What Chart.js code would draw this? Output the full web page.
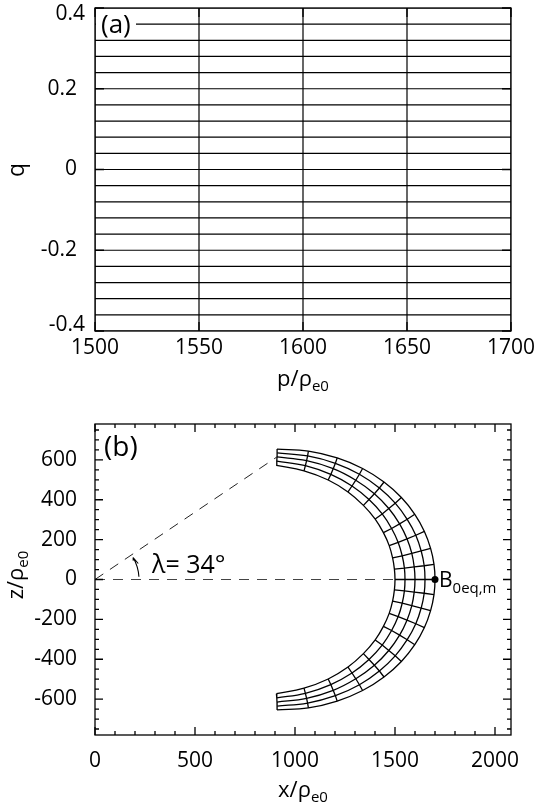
<!DOCTYPE html>
<html>
<head>
<meta charset="utf-8">
<script src="https://cdn.jsdelivr.net/npm/chart.js@4.4.0/dist/chart.umd.min.js"></script>
<style>
  html, body { margin: 0; padding: 0; background: #fff; }
  #wrap { position: relative; width: 534px; height: 803px; }
  canvas { position: absolute; left: 0; }
  #chartA { top: 0; }
  #chartB { top: 400px; }
</style>
</head>
<body>
<div id="wrap">
  <canvas id="chartA" width="534" height="400"></canvas>
  <canvas id="chartB" width="534" height="403"></canvas>
</div>
<script>
const FONT = 'Open Sans';

// ---- panel (a): the mesh in (p, q) ----
const pLevels = [1500, 1550, 1600, 1650, 1700];
const qLevels = [-0.4, -0.36, -0.32, -0.28, -0.24, -0.2, -0.16, -0.12, -0.08, -0.04, 0,
                 0.04, 0.08, 0.12, 0.16, 0.2, 0.24, 0.28, 0.32, 0.36, 0.4];
const aTicksX = [1500, 1550, 1600, 1650, 1700];
const aTicksY = [-0.4, -0.2, 0, 0.2, 0.4];
const aLabelsY = ['-0.4', '-0.2', '0', '0.2', '0.4'];

// ---- panel (b): field lines p = const, mesh nodes from lower end to upper end ----
const fieldX1500 = [907, 1045, 1166, 1265, 1342, 1401, 1442, 1471, 1488, 1497, 1500, 1497, 1488, 1471, 1442, 1401, 1342, 1265, 1166, 1045, 907];
const fieldZ1500 = [-573, -545, -499, -439, -372, -303, -235, -170, -108, -52, 0, 52, 108, 170, 235, 303, 372, 439, 499, 545, 573];
const fieldX1550 = [909, 1052, 1179, 1285, 1370, 1436, 1483, 1516, 1536, 1547, 1550, 1547, 1536, 1516, 1483, 1436, 1370, 1285, 1179, 1052, 909];
const fieldZ1550 = [-594, -571, -527, -469, -401, -329, -256, -186, -119, -57, 0, 57, 119, 186, 256, 329, 401, 469, 527, 571, 594];
const fieldX1600 = [910, 1058, 1191, 1304, 1397, 1469, 1523, 1560, 1584, 1596, 1600, 1596, 1584, 1560, 1523, 1469, 1397, 1304, 1191, 1058, 910];
const fieldZ1600 = [-615, -596, -556, -498, -430, -356, -279, -204, -131, -63, 0, 63, 131, 204, 279, 356, 430, 498, 556, 596, 615];
const fieldX1650 = [911, 1063, 1202, 1322, 1422, 1501, 1561, 1604, 1631, 1646, 1650, 1646, 1631, 1604, 1561, 1501, 1422, 1322, 1202, 1063, 911];
const fieldZ1650 = [-635, -620, -583, -528, -459, -383, -302, -222, -143, -69, 0, 69, 143, 222, 302, 383, 459, 528, 583, 620, 635];
const fieldX1700 = [910, 1067, 1211, 1338, 1445, 1532, 1599, 1647, 1678, 1695, 1700, 1695, 1678, 1647, 1599, 1532, 1445, 1338, 1211, 1067, 910];
const fieldZ1700 = [-654, -644, -610, -557, -489, -411, -327, -241, -156, -76, 0, 76, 156, 241, 327, 411, 489, 557, 610, 644, 654];

const bPointB = { x: 1700, z: 0 };   // B0eq,m
const bTicksX = [0, 500, 1000, 1500, 2000];
const bMinorX = [100, 200, 300, 400, 600, 700, 800, 900, 1100, 1200, 1300, 1400, 1600, 1700, 1800, 1900];
const bTicksY = [-600, -400, -200, 0, 200, 400, 600];
const bMinorY = [-750, -700, -650, -550, -500, -450, -350, -300, -250, -150, -100, -50,
                 50, 100, 150, 250, 300, 350, 450, 500, 550, 650, 700, 750];

// ---------- helpers ----------
function drawText(ctx, item) {
  let w = 0;
  item.parts.forEach(p => { ctx.font = `${p.size}px "${FONT}"`; w += ctx.measureText(p.t).width; });
  let x0 = item.align === 'center' ? -w / 2 : (item.align === 'right' ? -w : 0);
  ctx.save();
  ctx.translate(item.x, item.y);
  if (item.rotate) ctx.rotate(-Math.PI / 2);
  ctx.fillStyle = '#000';
  ctx.textAlign = 'left';
  ctx.textBaseline = item.baseline || 'alphabetic';
  item.parts.forEach(p => {
    ctx.font = `${p.size}px "${FONT}"`;
    ctx.fillText(p.t, x0, p.dy || 0);
    x0 += ctx.measureText(p.t).width;
  });
  ctx.restore();
}

// box + inward ticks on all four sides
const framePlugin = {
  id: 'frame',
  afterDraw(chart, args, opts) {
    const { ctx, chartArea: a, scales: { x, y } } = chart;
    ctx.save();
    ctx.strokeStyle = '#000';
    ctx.lineWidth = 1.3;
    ctx.beginPath();
    const tx = (v, len) => {
      const px = x.getPixelForValue(v);
      ctx.moveTo(px, a.bottom); ctx.lineTo(px, a.bottom - len);
      ctx.moveTo(px, a.top); ctx.lineTo(px, a.top + len);
    };
    const ty = (v, len) => {
      const py = y.getPixelForValue(v);
      ctx.moveTo(a.left, py); ctx.lineTo(a.left + len, py);
      ctx.moveTo(a.right, py); ctx.lineTo(a.right - len, py);
    };
    x.ticks.forEach(t => tx(t.value, opts.major));
    y.ticks.forEach(t => ty(t.value, opts.major));
    (opts.minorX || []).forEach(v => tx(v, opts.minor));
    (opts.minorY || []).forEach(v => ty(v, opts.minor));
    ctx.stroke();
    ctx.strokeRect(a.left, a.top, a.right - a.left, a.bottom - a.top);
    ctx.restore();
  }
};

// panel letters, titles, annotations
const notesPlugin = {
  id: 'notes',
  afterDatasetsDraw(chart, args, opts) {
    const ctx = chart.ctx;
    (opts.boxes || []).forEach(b => { ctx.fillStyle = '#fff'; ctx.fillRect(b[0], b[1], b[2], b[3]); });
    if (opts.arc) {
      const { x, y } = chart.scales;
      const cx = x.getPixelForValue(0), cy = y.getPixelForValue(0);
      const R = x.getPixelForValue(opts.arc.r) - cx;
      const t0 = opts.arc.from * Math.PI / 180, t1 = opts.arc.to * Math.PI / 180;
      ctx.save();
      ctx.strokeStyle = '#000';
      ctx.lineWidth = 1.1;
      ctx.beginPath();
      ctx.arc(cx, cy, R, -t1, -t0);
      const px = cx + R * Math.cos(t1), py = cy - R * Math.sin(t1);
      const dx = -Math.sin(t1), dy = -Math.cos(t1);
      [0.5, -0.5].forEach(s => {
        const bx = -dx * Math.cos(s) + dy * Math.sin(s);
        const by = -dx * -Math.sin(s) + -dy * Math.cos(s);
        ctx.moveTo(px, py); ctx.lineTo(px + 6 * bx, py + 6 * by);
      });
      ctx.stroke();
      ctx.restore();
    }
    (opts.items || []).forEach(it => drawText(ctx, it));
  }
};

const tickFont = { family: FONT, size: 21 };

// ---------- panel (a) ----------
const meshA = [];
qLevels.forEach(q => meshA.push({ data: [{ x: pLevels[0], y: q }, { x: pLevels[pLevels.length - 1], y: q }] }));
pLevels.forEach(p => meshA.push({ data: [{ x: p, y: qLevels[0] }, { x: p, y: qLevels[qLevels.length - 1] }] }));
meshA.forEach(d => Object.assign(d, { showLine: true, borderColor: '#000', borderWidth: 1.2, pointRadius: 0, tension: 0 }));

new Chart(document.getElementById('chartA'), {
  type: 'scatter',
  data: { datasets: meshA },
  options: {
    responsive: false, animation: false, events: [],
    layout: { padding: { left: 0, right: 23, top: 8, bottom: 0 } },
    plugins: {
      legend: { display: false }, tooltip: { enabled: false },
      frame: { major: 9, minor: 4 },
      notes: {
        boxes: [[96, 11, 40, 27]],
        items: [
          { parts: [{ t: '(a)', size: 26 }], x: 101, y: 33 },
          { parts: [{ t: aLabelsY[4], size: 21 }], x: 85, y: 14, align: 'right', baseline: 'middle' },
          { parts: [{ t: aLabelsY[0], size: 21 }], x: 85, y: 325, align: 'right', baseline: 'middle' },
          { parts: [{ t: 'q', size: 23 }], x: 24, y: 170, align: 'center', rotate: true },
          { parts: [{ t: 'p/\u03c1', size: 22 }, { t: 'e0', size: 15, dy: 5 }], x: 303, y: 386, align: 'center' }
        ]
      }
    },
    scales: {
      x: {
        type: 'linear', min: 1500, max: 1700,
        grid: { display: false }, border: { display: false },
        afterBuildTicks: s => { s.ticks = aTicksX.map(v => ({ value: v })); },
        afterFit: s => { s.height = 69; s.paddingLeft = 0; s.paddingRight = 0; },
        ticks: { autoSkip: false, maxRotation: 0, padding: -4, color: '#000', font: tickFont, callback: v => String(v) }
      },
      y: {
        type: 'linear', min: -0.4, max: 0.4,
        grid: { display: false }, border: { display: false },
        afterBuildTicks: s => { s.ticks = aTicksY.map(v => ({ value: v })); },
        afterFit: s => { s.width = 95; s.paddingTop = 0; s.paddingBottom = 0; },
        ticks: {
          autoSkip: false, padding: 10, color: '#000', font: tickFont,
          callback: v => { const i = aTicksY.indexOf(v); return (i === 0 || i === aTicksY.length - 1) ? '' : aLabelsY[i]; }
        }
      }
    }
  },
  plugins: [framePlugin, notesPlugin]
});

// ---------- panel (b) ----------
const fieldX = [fieldX1500, fieldX1550, fieldX1600, fieldX1650, fieldX1700];
const fieldZ = [fieldZ1500, fieldZ1550, fieldZ1600, fieldZ1650, fieldZ1700];
const line = (pts, extra) => Object.assign({ data: pts, showLine: true, borderColor: '#000', borderWidth: 1.3, pointRadius: 0, tension: 0 }, extra || {});

const meshB = [];
const mid = fieldX1600.length - 1;
meshB.push(line([{ x: 0, y: 0 }, { x: fieldX1500[10], y: 0 }], { borderColor: '#444', borderWidth: 1.1, borderDash: [10, 8] }));
meshB.push(line([{ x: 0, y: 0 }, { x: fieldX1600[mid], y: fieldZ1600[mid] }], { borderColor: '#222', borderWidth: 1, borderDash: [10, 8] }));
fieldX.forEach((xs, k) => meshB.push(line(xs.map((v, i) => ({ x: v, y: fieldZ[k][i] })), { tension: 0.4 })));
fieldX1600.forEach((_, i) => meshB.push(line(fieldX.map((xs, k) => ({ x: xs[i], y: fieldZ[k][i] })))));
meshB.push({ data: [{ x: bPointB.x, y: bPointB.z }], pointRadius: 3.5, pointBackgroundColor: '#000', pointBorderWidth: 0 });

new Chart(document.getElementById('chartB'), {
  type: 'scatter',
  data: { datasets: meshB },
  options: {
    responsive: false, animation: false, events: [],
    layout: { padding: { left: 0, right: 23, top: 24, bottom: 0 } },
    plugins: {
      legend: { display: false }, tooltip: { enabled: false },
      frame: { major: 8, minor: 4, minorX: bMinorX, minorY: bMinorY },
      notes: {
        arc: { r: 220, from: 3.5, to: 30 },
        items: [
          { parts: [{ t: '(b)', size: 28 }], x: 104, y: 56 },
          { parts: [{ t: '\u03bb= 34\u00b0', size: 25 }], x: 152, y: 173 },
          { parts: [{ t: 'B', size: 21 }, { t: '0eq,m', size: 15, dy: 5.5 }], x: 439, y: 187 },
          { parts: [{ t: 'z/\u03c1', size: 22 }, { t: 'e0', size: 15, dy: 5 }], x: 23, y: 175, align: 'center', rotate: true },
          { parts: [{ t: 'x/\u03c1', size: 22 }, { t: 'e0', size: 15, dy: 5 }], x: 303, y: 397, align: 'center' }
        ]
      }
    },
    scales: {
      x: {
        type: 'linear', min: 0, max: 2080,
        grid: { display: false }, border: { display: false },
        afterBuildTicks: s => { s.ticks = bTicksX.map(v => ({ value: v })); },
        afterFit: s => { s.height = 68; s.paddingLeft = 0; s.paddingRight = 0; },
        ticks: { autoSkip: false, maxRotation: 0, padding: 5, color: '#000', font: tickFont, callback: v => String(v) }
      },
      y: {
        type: 'linear', min: -780, max: 780,
        grid: { display: false }, border: { display: false },
        afterBuildTicks: s => { s.ticks = bTicksY.map(v => ({ value: v })); },
        afterFit: s => { s.width = 95; s.paddingTop = 0; s.paddingBottom = 0; },
        ticks: { autoSkip: false, padding: 10, color: '#000', font: tickFont, callback: v => String(v) }
      }
    }
  },
  plugins: [framePlugin, notesPlugin]
});
</script>
</body>
</html>
